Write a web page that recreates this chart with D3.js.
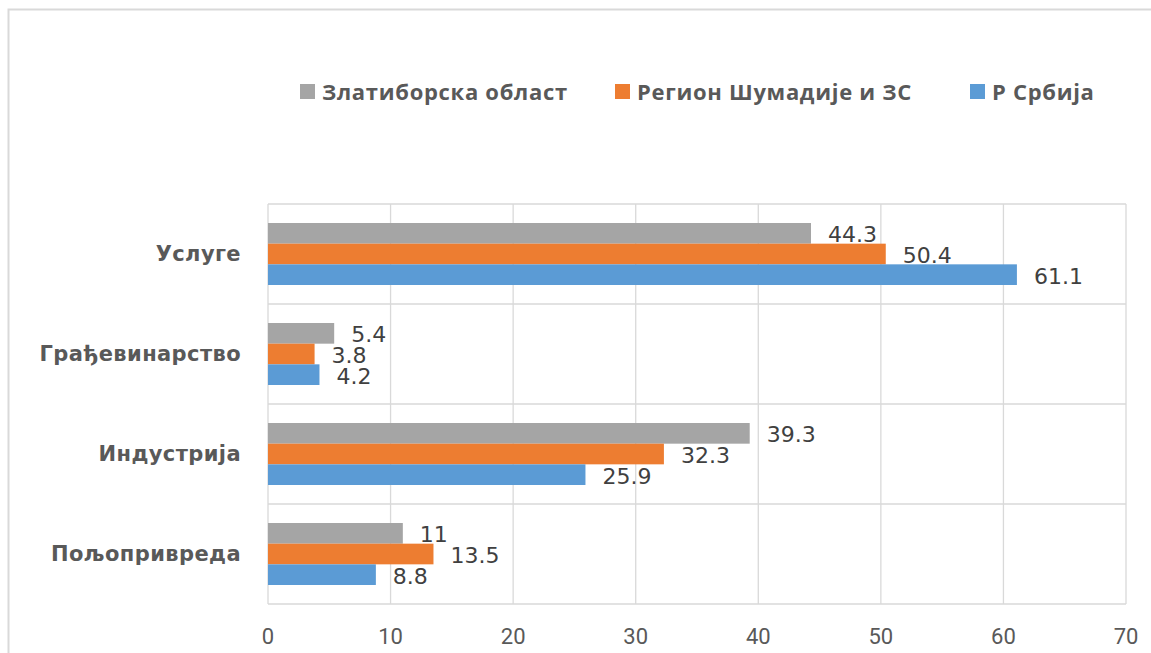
<!DOCTYPE html>
<html>
<head>
<meta charset="utf-8">
<script src="https://cdn.jsdelivr.net/npm/d3@7"></script>
<style>
  body { margin: 0; background: #fff; }
  svg { display: block; }
</style>
</head>
<body>
<div id="chart"></div>
<script>
// categories, top to bottom
const categories = ['Услуге', 'Грађевинарство', 'Индустрија', 'Пољопривреда'];
// series names (legend order)
const seriesNames = ['Златиборска област', 'Регион Шумадије и ЗС', 'Р Србија'];
// values per series, same order as categories
const zlatiborska = [44.3, 5.4, 39.3, 11];
const regionSumadije = [50.4, 3.8, 32.3, 13.5];
const rSrbija = [61.1, 4.2, 25.9, 8.8];
const xTicks = [0, 10, 20, 30, 40, 50, 60, 70];

const colors = ['#A5A5A5', '#ED7D31', '#5B9BD5'];
const seriesValues = [zlatiborska, regionSumadije, rSrbija];

let width = 1151, height = 653;
let plotTop = 204, plotBottom = 604;

let svg = d3.select('#chart')
    .append('svg')
    .attr('width', width)
    .attr('height', height);

// outer chart border (runs off the right/bottom edge)
svg.append('rect')
    .attr('x', 8.5).attr('y', 9.5)
    .attr('width', 1200).attr('height', 700)
    .attr('fill', 'none')
    .attr('stroke', '#D9D9D9')
    .attr('stroke-width', 2);

let x = d3.scaleLinear()
    .domain([0, 70])
    .range([268, 1126]);

let y = d3.scaleBand()
    .domain(categories)
    .range([plotTop, plotBottom]);

let inner = d3.scaleBand()
    .domain(d3.range(seriesNames.length))
    .range([0, y.bandwidth()])
    .paddingOuter(0.92)
    .paddingInner(0);

// gridlines
let grid = svg.append('g');
grid.selectAll('line.v')
    .data(xTicks)
    .enter()
    .append('line')
    .attr('x1', d => x(d)).attr('x2', d => x(d))
    .attr('y1', plotTop).attr('y2', plotBottom)
    .attr('stroke', '#D9D9D9')
    .attr('stroke-width', 1.3);
grid.selectAll('line.h')
    .data(categories.concat(['_end']))
    .enter()
    .append('line')
    .attr('x1', x(0)).attr('x2', x(70))
    .attr('y1', d => d === '_end' ? plotBottom : y(d))
    .attr('y2', d => d === '_end' ? plotBottom : y(d))
    .attr('stroke', '#D9D9D9')
    .attr('stroke-width', 1.3);

// bars
let bars = [];
categories.forEach((c, ci) => {
    seriesValues.forEach((vals, si) => {
        bars.push({ cat: c, s: si, v: vals[ci] });
    });
});

svg.append('g').selectAll('rect')
    .data(bars)
    .enter()
    .append('rect')
    .attr('x', x(0))
    .attr('y', d => y(d.cat) + inner(d.s))
    .attr('width', d => x(d.v) - x(0))
    .attr('height', inner.bandwidth())
    .attr('fill', d => colors[d.s]);

// value labels
svg.append('g').selectAll('text')
    .data(bars)
    .enter()
    .append('text')
    .attr('x', d => x(d.v) + 17)
    .attr('y', d => y(d.cat) + inner(d.s) + inner.bandwidth() / 2 + 9)
    .attr('font-family', 'DejaVu Sans, sans-serif')
    .attr('font-size', 22)
    .attr('fill', '#404040')
    .text(d => d.v);

// category labels
svg.append('g').selectAll('text')
    .data(categories)
    .enter()
    .append('text')
    .attr('x', 241)
    .attr('y', d => y(d) + y.bandwidth() / 2 + 7)
    .attr('text-anchor', 'end')
    .attr('font-family', 'DejaVu Sans, sans-serif')
    .attr('font-weight', 'bold')
    .attr('font-size', 21)
    .attr('letter-spacing', 0.4)
    .attr('fill', '#595959')
    .text(d => d);

// x axis tick labels
svg.append('g').selectAll('text')
    .data(xTicks)
    .enter()
    .append('text')
    .attr('x', d => x(d))
    .attr('y', 644)
    .attr('text-anchor', 'middle')
    .attr('font-family', 'Liberation Sans Narrow, Roboto, sans-serif')
    .attr('font-size', 22)
    .attr('fill', '#595959')
    .text(d => d);

// legend
const legendX = [300, 615, 970];
let legend = svg.append('g');
seriesNames.forEach((name, i) => {
    legend.append('rect')
        .attr('x', legendX[i]).attr('y', 84)
        .attr('width', 15).attr('height', 15)
        .attr('fill', colors[i]);
    legend.append('text')
        .attr('x', legendX[i] + 22)
        .attr('y', 100)
        .attr('font-family', 'Open Sans, sans-serif')
        .attr('font-weight', 'bold')
        .attr('font-size', 22)
        .attr('letter-spacing', 0.7)
        .attr('fill', '#595959')
        .text(name);
});
</script>
</body>
</html>
